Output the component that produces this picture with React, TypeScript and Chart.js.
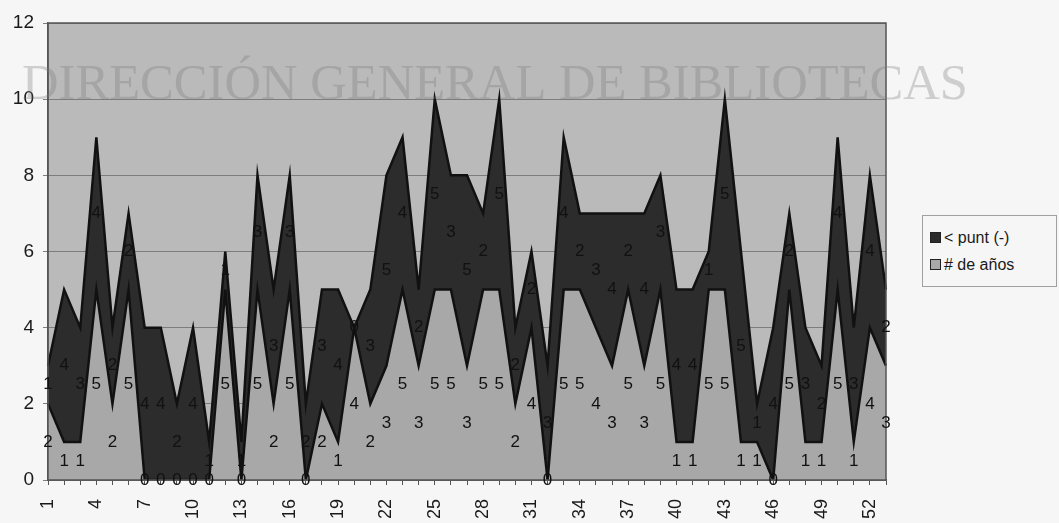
import React, { useEffect, useRef } from "react";
import { Chart, registerables } from "chart.js";

Chart.register(...registerables);

const categories = [
  "1","2","3","4","5","6","7","8","9","10","11","12","13","14","15","16","17","18","19","20",
  "21","22","23","24","25","26","27","28","29","30","31","32","33","34","35","36","37","38","39","40",
  "41","42","43","44","45","46","47","48","49","50","51","52","53",
];

// "# de años" (bottom series)
const deAnos = [
  2, 1, 1, 5, 2, 5, 0, 0, 0, 0, 0, 5, 0, 5, 2, 5, 0, 2, 1, 4,
  2, 3, 5, 3, 5, 5, 3, 5, 5, 2, 4, 0, 5, 5, 4, 3, 5, 3, 5, 1,
  1, 5, 5, 1, 1, 0, 5, 1, 1, 5, 1, 4, 3,
];

// "< punt (-)" (top series, stacked)
const punt = [
  1, 4, 3, 4, 2, 2, 4, 4, 2, 4, 1, 1, 1, 3, 3, 3, 2, 3, 4, 0,
  3, 5, 4, 2, 5, 3, 5, 2, 5, 2, 2, 3, 4, 2, 3, 4, 2, 4, 3, 4,
  4, 1, 5, 5, 1, 4, 2, 3, 2, 4, 3, 4, 2,
];

const yTicks = [0, 2, 4, 6, 8, 10, 12];
const watermark = "DIRECCIÓN GENERAL DE BIBLIOTECAS";

const PAGE_BG = "#f6f6f6";
const PLOT_BG = "#bababa";
const LIGHT = "#a8a8a8";
const DARK = "#2c2c2c";
const FONT = "'Liberation Sans', Arial, sans-serif";

export default function App() {
  const ref = useRef<HTMLCanvasElement | null>(null);

  useEffect(() => {
    const canvas = ref.current;
    if (!canvas) return;

    const bgPlugin = {
      id: "plotBg",
      beforeDraw(chart: any) {
        const { ctx, chartArea } = chart;
        ctx.save();
        ctx.fillStyle = PLOT_BG;
        ctx.fillRect(chartArea.left, chartArea.top, chartArea.right - chartArea.left, chartArea.bottom - chartArea.top);
        ctx.restore();
      },
      afterDatasetsDraw(chart: any) {
        const { ctx, chartArea } = chart;
        ctx.save();
        ctx.strokeStyle = "#555555";
        ctx.lineWidth = 1.5;
        ctx.strokeRect(chartArea.left, chartArea.top, chartArea.right - chartArea.left, chartArea.bottom - chartArea.top);
        ctx.restore();
      },
    };

    const labelPlugin = {
      id: "bandLabels",
      afterDatasetsDraw(chart: any) {
        const { ctx, scales } = chart;
        const xs = scales.x;
        const ys = scales.y;
        ctx.save();
        ctx.font = "17px " + FONT;
        ctx.fillStyle = "#111111";
        ctx.textAlign = "center";
        ctx.textBaseline = "middle";
        for (let i = 0; i < categories.length; i++) {
          const x = xs.getPixelForValue(i);
          const b = deAnos[i];
          const t = punt[i];
          ctx.fillText(String(b), x, ys.getPixelForValue(b / 2));
          ctx.fillText(String(t), x, ys.getPixelForValue(b + t / 2));
        }
        ctx.restore();
      },
    };

    const watermarkPlugin = {
      id: "watermark",
      afterDraw(chart: any) {
        const { ctx } = chart;
        ctx.save();
        ctx.font = "50px 'Liberation Serif', 'Times New Roman', serif";
        ctx.fillStyle = "rgba(120,120,120,0.32)";
        ctx.textBaseline = "alphabetic";
        ctx.textAlign = "left";
        const w = ctx.measureText(watermark).width;
        const target = 946;
        ctx.translate(22, 99);
        ctx.scale(target / w, 1);
        ctx.fillText(watermark, 0, 0);
        ctx.restore();
      },
    };

    const chart = new Chart(canvas, {
      type: "line",
      data: {
        labels: categories,
        datasets: [
          {
            label: "# de años",
            data: deAnos,
            fill: "origin",
            backgroundColor: LIGHT,
            borderColor: "#111111",
            borderWidth: 2.5,
            pointRadius: 0,
            tension: 0,
          },
          {
            label: "< punt (-)",
            data: punt,
            fill: "-1",
            backgroundColor: DARK,
            borderColor: "#111111",
            borderWidth: 2.5,
            pointRadius: 0,
            tension: 0,
          },
        ],
      },
      options: {
        animation: false,
        responsive: false,
        maintainAspectRatio: false,
        layout: { padding: { left: 0, right: 173, top: 23, bottom: 0 } },
        plugins: {
          legend: { display: false },
          tooltip: { enabled: false },
        },
        scales: {
          x: {
            offset: false,
            grid: {
              display: true,
              drawOnChartArea: false,
              drawTicks: true,
              tickLength: 5,
              color: "#555555",
            },
            border: { display: true, color: "#444444", width: 1.5 },
            ticks: {
              autoSkip: false,
              minRotation: 90,
              maxRotation: 90,
              padding: 14,
              color: "#1a1a1a",
              font: { family: FONT, size: 18 },
              callback: (_v: any, idx: number) => (idx % 3 === 0 ? categories[idx] : ""),
            },
            afterFit: (scale: any) => {
              scale.height = 43;
            },
          },
          y: {
            stacked: true,
            min: 0,
            max: 12,
            afterBuildTicks: (scale: any) => {
              scale.ticks = yTicks.map((v) => ({ value: v }));
            },
            grid: {
              color: "#7d7d7d",
              lineWidth: 1,
              drawTicks: true,
              tickLength: 5,
            },
            border: { display: true, color: "#555555", width: 1.5 },
            ticks: {
              padding: 9,
              color: "#1a1a1a",
              font: { family: FONT, size: 19 },
            },
            afterFit: (scale: any) => {
              scale.width = 48;
            },
          },
        },
      },
      plugins: [bgPlugin, labelPlugin, watermarkPlugin],
    });

    return () => chart.destroy();
  }, []);

  const sw = (fill: string): React.CSSProperties => ({
    display: "inline-block",
    width: 9,
    height: 9,
    background: fill,
    border: "1px solid #222",
    marginRight: 3,
    verticalAlign: "middle",
    position: "relative",
    top: -1,
  });

  return (
    <div style={{ position: "fixed", left: 0, top: 0, width: 1059, height: 523, background: PAGE_BG }}>
      <canvas ref={ref} width={1059} height={523} style={{ display: "block", width: 1059, height: 523 }} />
      <div
        style={{
          position: "absolute",
          left: 922,
          top: 215,
          width: 135,
          height: 72,
          border: "1px solid #a0a0a0",
          background: PAGE_BG,
          fontFamily: FONT,
          fontSize: 16,
          color: "#1a1a1a",
          boxSizing: "border-box",
          paddingLeft: 7,
          paddingTop: 8,
          lineHeight: "27px",
        }}
      >
        <div style={{ whiteSpace: "nowrap" }}>
          <span style={sw(DARK)} />
          {"< punt (-)"}
        </div>
        <div style={{ whiteSpace: "nowrap" }}>
          <span style={sw(LIGHT)} />
          {"# de años"}
        </div>
      </div>
    </div>
  );
}
